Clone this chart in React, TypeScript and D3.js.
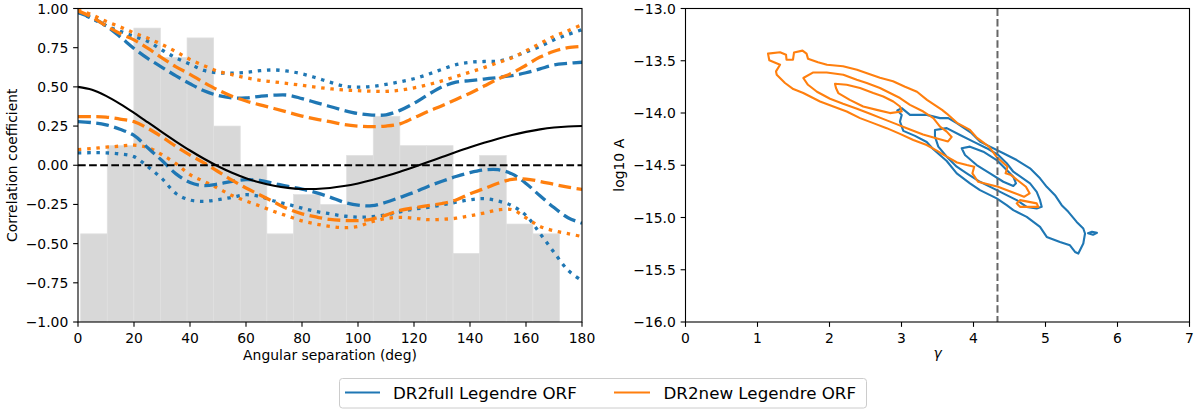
import * as d3 from "d3";

// ── Left panel: angular correlation data ─────────────────────────────

const angles = [
  0, 5, 10, 15, 20, 25, 30, 35, 40, 45, 50, 55, 60, 65, 70, 75, 80, 85, 90,
  95, 100, 105, 110, 115, 120, 125, 130, 135, 140, 145, 150, 155, 160, 165,
  170, 175, 180,
];

// Hellings-Downs reference curve
const hdCurve = [
  0.5, 0.4816, 0.4425, 0.3917, 0.3341, 0.2732, 0.2116, 0.1514, 0.0942, 0.0414,
  -0.0062, -0.0476, -0.0824, -0.1102, -0.1309, -0.1445, -0.1511, -0.1511,
  -0.1449, -0.1329, -0.1159, -0.0945, -0.0693, -0.0413, -0.0111, 0.0203,
  0.0522, 0.0839, 0.1145, 0.1433, 0.1697, 0.1931, 0.213, 0.2289, 0.2405,
  0.2476, 0.25,
];

// DR2full (blue) bands
const full1Upper = [
  0.975, 0.94, 0.89, 0.82, 0.745, 0.68, 0.625, 0.57, 0.52, 0.475, 0.445, 0.43,
  0.43, 0.44, 0.447, 0.447, 0.425, 0.4, 0.375, 0.35, 0.33, 0.32, 0.322, 0.35,
  0.395, 0.45, 0.5, 0.53, 0.54, 0.55, 0.56, 0.572, 0.59, 0.615, 0.64, 0.65,
  0.657,
];
const full1Lower = [
  0.278, 0.272, 0.258, 0.23, 0.19, 0.11, 0.03, -0.055, -0.11, -0.13, -0.12,
  -0.103, -0.092, -0.097, -0.116, -0.135, -0.152, -0.175, -0.203, -0.236,
  -0.255, -0.258, -0.236, -0.205, -0.173, -0.135, -0.102, -0.072, -0.047,
  -0.03, -0.028, -0.055, -0.116, -0.195, -0.27, -0.335, -0.37,
];
const full2Upper = [
  0.976, 0.935, 0.89, 0.855, 0.822, 0.79, 0.735, 0.685, 0.645, 0.605, 0.59,
  0.587, 0.592, 0.603, 0.608, 0.6, 0.583, 0.558, 0.53, 0.505, 0.498, 0.503,
  0.516, 0.532, 0.552, 0.58, 0.612, 0.642, 0.657, 0.662, 0.664, 0.688, 0.723,
  0.758, 0.8, 0.834, 0.865,
];
const full2Lower = [
  0.079, 0.08, 0.079, 0.072, 0.055, -0.01, -0.085, -0.18, -0.222, -0.23,
  -0.22, -0.205, -0.188, -0.2, -0.228, -0.25, -0.273, -0.295, -0.31, -0.324,
  -0.331, -0.328, -0.317, -0.297, -0.28, -0.268, -0.253, -0.236, -0.22,
  -0.213, -0.228, -0.258, -0.32, -0.435, -0.555, -0.67, -0.737,
];

// DR2new (orange) bands
const new1Upper = [
  0.985, 0.945, 0.89, 0.84, 0.8, 0.745, 0.685, 0.628, 0.58, 0.528, 0.48, 0.44,
  0.41, 0.385, 0.362, 0.338, 0.314, 0.294, 0.278, 0.26, 0.25, 0.246, 0.25,
  0.264, 0.303, 0.343, 0.38, 0.42, 0.46, 0.505, 0.55, 0.588, 0.638, 0.69,
  0.727, 0.75, 0.758,
];
const new1Lower = [
  0.31, 0.31, 0.307, 0.295, 0.278, 0.235, 0.18, 0.12, 0.065, 0.015, -0.04,
  -0.095, -0.145, -0.19, -0.235, -0.278, -0.31, -0.33, -0.346, -0.352, -0.353,
  -0.343, -0.318, -0.288, -0.272, -0.258, -0.244, -0.222, -0.182, -0.15,
  -0.115, -0.09, -0.088, -0.103, -0.122, -0.14, -0.154,
];
const new2Upper = [
  0.99, 0.96, 0.918, 0.883, 0.844, 0.81, 0.77, 0.725, 0.675, 0.635, 0.6,
  0.578, 0.558, 0.542, 0.532, 0.521, 0.51, 0.498, 0.488, 0.48, 0.476, 0.472,
  0.471, 0.479, 0.494, 0.514, 0.538, 0.566, 0.594, 0.623, 0.655, 0.686, 0.73,
  0.776, 0.823, 0.858, 0.897,
];
const new2Lower = [
  0.1, 0.107, 0.115, 0.122, 0.128, 0.112, 0.067, 0.01, -0.06, -0.103, -0.147,
  -0.193, -0.228, -0.26, -0.295, -0.325, -0.355, -0.375, -0.39, -0.398, -0.39,
  -0.36, -0.34, -0.332, -0.338, -0.347, -0.345, -0.338, -0.322, -0.305,
  -0.285, -0.283, -0.335, -0.39, -0.418, -0.436, -0.455,
];

// Binned cross-correlations (grey histogram)
const binEdges = [
  0.95, 10.45, 19.95, 29.45, 38.95, 48.45, 57.95, 67.45, 76.95, 86.45, 95.95,
  105.45, 114.95, 124.45, 133.95, 143.45, 152.95, 162.45, 171.95,
];
const binValues = [
  -0.4375, 0.125, 0.875, 0.6875, 0.8125, 0.25, 0.0, -0.4375, -0.1875, -0.25,
  0.0625, 0.3125, 0.125, 0.125, -0.5625, 0.0625, -0.375, -0.4375,
];

const angleTicks = [0, 20, 40, 60, 80, 100, 120, 140, 160, 180];
const corrTicks = [-1, -0.75, -0.5, -0.25, 0, 0.25, 0.5, 0.75, 1];

// ── Right panel: gamma / log10 A posterior contours ──────────────────

type Pt = [number, number];

const fullContours: Pt[][] = [
  [
    [2.942, -13.976], [3.003, -13.953], [3.118, -14.018], [3.35, -14.018],
    [3.535, -14.049], [3.65, -14.049], [3.767, -14.097], [3.975, -14.193],
    [4.09, -14.274], [4.229, -14.322], [4.414, -14.385], [4.6, -14.45],
    [4.785, -14.529], [4.924, -14.625], [5.017, -14.706], [5.132, -14.786],
    [5.225, -14.882], [5.317, -14.946], [5.433, -15.042], [5.525, -15.105],
    [5.549, -15.153], [5.525, -15.249], [5.456, -15.345], [5.41, -15.33],
    [5.34, -15.266], [5.201, -15.234], [5.017, -15.186], [4.924, -15.09],
    [4.739, -14.994], [4.553, -14.93], [4.461, -14.882], [4.322, -14.817],
    [4.09, -14.738], [3.951, -14.673], [3.767, -14.577], [3.628, -14.459],
    [3.549, -14.411], [3.438, -14.344], [3.35, -14.277], [3.188, -14.219],
    [3.025, -14.171], [2.979, -14.082], [3.003, -14.018],
  ],
  [
    [3.465, -14.162], [3.628, -14.145], [3.813, -14.21], [3.997, -14.274],
    [4.183, -14.337], [4.344, -14.402], [4.461, -14.481], [4.553, -14.562],
    [4.785, -14.673], [4.878, -14.754], [4.924, -14.834], [4.947, -14.898],
    [4.878, -14.913], [4.739, -14.898], [4.6, -14.834], [4.461, -14.786],
    [4.275, -14.721], [4.09, -14.658], [3.906, -14.577], [3.767, -14.514],
    [3.628, -14.418], [3.511, -14.322], [3.465, -14.226],
  ],
  [
    [3.836, -14.337], [3.951, -14.322], [4.136, -14.37], [4.322, -14.45],
    [4.461, -14.546], [4.553, -14.61], [4.59, -14.673], [4.553, -14.699],
    [4.414, -14.658], [4.229, -14.577], [4.044, -14.498], [3.882, -14.402],
  ],
  [[5.59, -15.15], [5.646, -15.136], [5.715, -15.146], [5.66, -15.165]],
];

const newContours: Pt[][] = [
  [
    [1.146, -13.432], [1.313, -13.418], [1.396, -13.442], [1.403, -13.49],
    [1.493, -13.49], [1.507, -13.422], [1.625, -13.403], [1.681, -13.432],
    [1.701, -13.48], [1.84, -13.514], [1.965, -13.538], [2.188, -13.552],
    [2.382, -13.586], [2.521, -13.619], [2.701, -13.662], [2.882, -13.696],
    [3.049, -13.749], [3.215, -13.797], [3.354, -13.874], [3.563, -13.97],
    [3.632, -14.008], [3.771, -14.094], [3.951, -14.162], [4.049, -14.238],
    [4.215, -14.322], [4.318, -14.418], [4.472, -14.514], [4.446, -14.577],
    [4.521, -14.594], [4.728, -14.706], [4.779, -14.769], [4.701, -14.802],
    [4.521, -14.754], [4.34, -14.706], [4.063, -14.658], [3.985, -14.577],
    [4.01, -14.514], [3.908, -14.498], [3.771, -14.474], [3.628, -14.418],
    [3.489, -14.36], [3.35, -14.306], [3.164, -14.258], [2.979, -14.2],
    [2.794, -14.145], [2.608, -14.097], [2.424, -14.049], [2.239, -13.986],
    [2.053, -13.938], [1.868, -13.89], [1.636, -13.809], [1.497, -13.771],
    [1.382, -13.713], [1.267, -13.634], [1.257, -13.602], [1.313, -13.538],
    [1.164, -13.496],
  ],
  [
    [1.636, -13.665], [1.775, -13.612], [1.961, -13.612], [2.192, -13.634],
    [2.378, -13.682], [2.517, -13.713], [2.701, -13.761], [2.84, -13.809],
    [2.979, -13.857], [3.118, -13.922], [3.303, -13.986], [3.442, -14.049],
    [3.535, -14.13], [3.628, -14.178], [3.697, -14.229], [3.646, -14.272],
    [3.493, -14.243], [3.299, -14.205], [3.118, -14.157], [2.938, -14.109],
    [2.743, -14.056], [2.563, -14.008], [2.382, -13.96], [2.188, -13.912],
    [2.007, -13.864], [1.826, -13.797], [1.701, -13.73],
  ],
  [
    [2.076, -13.72], [2.239, -13.73], [2.424, -13.761], [2.608, -13.809],
    [2.747, -13.842], [2.886, -13.89], [2.979, -13.938], [3.003, -13.986],
    [2.84, -14.001], [2.656, -13.97], [2.468, -13.938], [2.282, -13.874],
    [2.122, -13.809], [2.09, -13.761],
  ],
  [[4.6, -14.865], [4.646, -14.834], [4.878, -14.865], [4.9, -14.898], [4.646, -14.898]],
];

const gammaRef = 4.333;
const gammaTicks = [0, 1, 2, 3, 4, 5, 6, 7];
const logATicks = [-16, -15.5, -15, -14.5, -14, -13.5, -13];

// ── Layout ───────────────────────────────────────────────────────────

const W = 1200;
const H = 413;
const TOP = 8.5;
const BOTTOM = 322;
const LEFT_A = [78, 582];
const RIGHT_A = [685.5, 1189.5];

const BLUE = "#1f77b4";
const ORANGE = "#ff7f0e";
const FONT = "DejaVu Sans";
const TICK = 4.86;

const xL = d3.scaleLinear().domain([0, 180]).range(LEFT_A);
const yL = d3.scaleLinear().domain([-1, 1]).range([BOTTOM, TOP]);
const xR = d3.scaleLinear().domain([0, 7]).range(RIGHT_A);
const yR = d3.scaleLinear().domain([-16, -13]).range([BOTTOM, TOP]);

const fmt2 = d3.format(".2f");
const fmt1 = d3.format(".1f");

const curveLine = d3
  .line<number>()
  .x((_, i) => xL(angles[i]))
  .y((d) => yL(d))
  .curve(d3.curveCatmullRom.alpha(0.5));

const contourLine = d3
  .line<Pt>()
  .x((d) => xR(d[0]))
  .y((d) => yR(d[1]))
  .curve(d3.curveLinearClosed);

const bands = [
  { data: full2Upper, color: BLUE, dash: "3.47,5.73" },
  { data: full2Lower, color: BLUE, dash: "3.47,5.73" },
  { data: new2Upper, color: ORANGE, dash: "3.47,5.73" },
  { data: new2Lower, color: ORANGE, dash: "3.47,5.73" },
  { data: full1Upper, color: BLUE, dash: "12.8,5.5" },
  { data: full1Lower, color: BLUE, dash: "12.8,5.5" },
  { data: new1Upper, color: ORANGE, dash: "12.8,5.5" },
  { data: new1Lower, color: ORANGE, dash: "12.8,5.5" },
];

// ── Axis frame with ticks ────────────────────────────────────────────

function Frame({
  x,
  y,
  xTicks,
  yTicks,
  yFmt,
}: {
  x: d3.ScaleLinear<number, number>;
  y: d3.ScaleLinear<number, number>;
  xTicks: number[];
  yTicks: number[];
  yFmt: (v: number) => string;
}) {
  const [x0, x1] = x.range();
  return (
    <g fontFamily={FONT} fontSize={13.9} fill="#000">
      <rect
        x={x0}
        y={TOP}
        width={x1 - x0}
        height={BOTTOM - TOP}
        fill="none"
        stroke="#000"
        strokeWidth={1.1}
      />
      {xTicks.map((t) => (
        <g key={`x${t}`}>
          <line x1={x(t)} x2={x(t)} y1={BOTTOM} y2={BOTTOM + TICK} stroke="#000" strokeWidth={1.1} />
          <text x={x(t)} y={BOTTOM + 20.5} textAnchor="middle">
            {t}
          </text>
        </g>
      ))}
      {yTicks.map((t) => (
        <g key={`y${t}`}>
          <line x1={x0 - TICK} x2={x0} y1={y(t)} y2={y(t)} stroke="#000" strokeWidth={1.1} />
          <text x={x0 - 9.7} y={y(t)} dy="0.36em" textAnchor="end">
            {yFmt(t)}
          </text>
        </g>
      ))}
    </g>
  );
}

export default function App() {
  const yMid = (TOP + BOTTOM) / 2;

  return (
    <svg
      width={W}
      height={H}
      viewBox={`0 0 ${W} ${H}`}
      style={{ position: "absolute", left: 0, top: 0, background: "#fff" }}
    >
      <defs>
        <clipPath id="clipL">
          <rect x={LEFT_A[0]} y={TOP} width={LEFT_A[1] - LEFT_A[0]} height={BOTTOM - TOP} />
        </clipPath>
        <clipPath id="clipR">
          <rect x={RIGHT_A[0]} y={TOP} width={RIGHT_A[1] - RIGHT_A[0]} height={BOTTOM - TOP} />
        </clipPath>
      </defs>

      {/* Left panel */}
      <g clipPath="url(#clipL)">
        {binValues.map((v, i) => (
          <rect
            key={i}
            x={xL(binEdges[i])}
            y={yL(v)}
            width={xL(binEdges[i + 1]) - xL(binEdges[i])}
            height={yL(-1) - yL(v)}
            fill="#d8d8d8"
            stroke="#e0e0e0"
            strokeWidth={0.7}
          />
        ))}
        {bands.map((b, i) => (
          <path
            key={i}
            d={curveLine(b.data) ?? ""}
            fill="none"
            stroke={b.color}
            strokeWidth={3.3}
            strokeDasharray={b.dash}
          />
        ))}
        <line
          x1={xL(0)}
          x2={xL(180)}
          y1={yL(0)}
          y2={yL(0)}
          stroke="#000"
          strokeWidth={2.1}
          strokeDasharray="7.7,3.4"
        />
        <path d={curveLine(hdCurve) ?? ""} fill="none" stroke="#000" strokeWidth={2.1} />
      </g>
      <Frame x={xL} y={yL} xTicks={angleTicks} yTicks={corrTicks} yFmt={fmt2} />
      <text x={xL(90)} y={360} textAnchor="middle" fontFamily={FONT} fontSize={13.9}>
        Angular separation (deg)
      </text>
      <text
        transform={`translate(16.8,${yMid}) rotate(-90)`}
        textAnchor="middle"
        fontFamily={FONT}
        fontSize={13.9}
      >
        Correlation coefficient
      </text>

      {/* Right panel */}
      <g clipPath="url(#clipR)">
        {fullContours.map((c, i) => (
          <path
            key={`b${i}`}
            d={contourLine(c) ?? ""}
            fill="none"
            stroke={BLUE}
            strokeWidth={2.1}
            strokeLinejoin="round"
          />
        ))}
        {newContours.map((c, i) => (
          <path
            key={`o${i}`}
            d={contourLine(c) ?? ""}
            fill="none"
            stroke={ORANGE}
            strokeWidth={2.1}
            strokeLinejoin="round"
          />
        ))}
        <line
          x1={xR(gammaRef)}
          x2={xR(gammaRef)}
          y1={TOP}
          y2={BOTTOM}
          stroke="#666"
          strokeWidth={2}
          strokeDasharray="7.4,3.2"
        />
      </g>
      <Frame x={xR} y={yR} xTicks={gammaTicks} yTicks={logATicks} yFmt={fmt1} />
      <text
        x={xR(3.5)}
        y={358}
        textAnchor="middle"
        fontFamily={FONT}
        fontSize={13.9}
        fontStyle="italic"
      >
        γ
      </text>
      <text
        transform={`translate(624.3,${yMid}) rotate(-90)`}
        textAnchor="middle"
        fontFamily={FONT}
        fontSize={13.9}
      >
        log10 A
      </text>

      {/* Legend */}
      <g fontFamily={FONT} fontSize={16.7}>
        <rect
          x={339.5}
          y={378.5}
          width={527}
          height={29.5}
          rx={3}
          fill="#fff"
          stroke="#cccccc"
          strokeWidth={1}
        />
        <line x1={345} x2={380} y1={392.5} y2={392.5} stroke={BLUE} strokeWidth={2.1} />
        <text x={393} y={398.5}>
          DR2full Legendre ORF
        </text>
        <line x1={614} x2={650} y1={392.5} y2={392.5} stroke={ORANGE} strokeWidth={2.1} />
        <text x={663.5} y={398.5}>
          DR2new Legendre ORF
        </text>
      </g>
    </svg>
  );
}
